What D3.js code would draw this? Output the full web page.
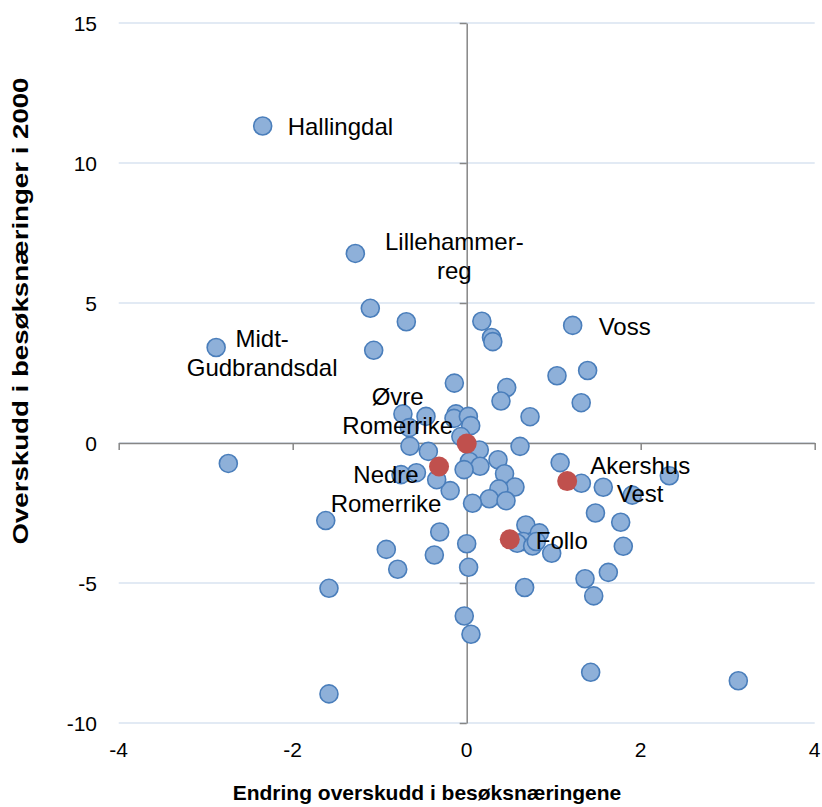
<!DOCTYPE html>
<html>
<head>
<meta charset="utf-8">
<script src="https://cdn.jsdelivr.net/npm/d3@7"></script>
<style>
  body { margin: 0; background: #fff; }
  text { font-family: "Liberation Sans", Arial, sans-serif; fill: #000; }
</style>
</head>
<body>
<div id="chart"></div>
<script>
// regions (blue series)
var regionX = [-2.345, -1.28, -2.88, 1.218, -1.108, -0.694, -1.069, 0.174, 0.285, 0.30,
  1.038, 1.39, -0.142, 0.46, 0.394, 1.316, 0.728, -0.733, -0.468, -0.123,
  -0.146, 0.019, 0.046, -0.66, -0.067, -0.652, -0.441, 0.145, 0.613, 0.36,
  0.03, 0.153, -0.03, 1.074, 1.318, 0.435, 0.555, 0.37, 0.26, 0.452,
  0.067, -0.19, -0.345, -0.578, -0.755, 1.57, 1.903, 2.329, 1.48, 1.77,
  1.80, 1.628, 1.36, 1.46, 0.666, 0.68, 0.835, 0.65, 0.58, 0.758,
  0.80, 0.977, 0.0, 0.022, -0.028, 0.049, 1.425, 3.122, -2.74, -1.62,
  -0.924, -0.793, -0.31, -0.372, -1.583, -1.583];
var regionY = [11.32, 6.77, 3.41, 4.20, 4.81, 4.33, 3.31, 4.35, 3.77, 3.62,
  2.40, 2.59, 2.14, 1.98, 1.50, 1.44, 0.94, 1.04, 0.95, 1.04,
  0.88, 0.95, 0.62, 0.55, 0.23, -0.11, -0.30, -0.25, -0.12, -0.60,
  -0.66, -0.83, -0.95, -0.70, -1.44, -1.10, -1.57, -1.64, -1.99, -2.06,
  -2.15, -1.70, -1.31, -1.06, -1.13, -1.58, -1.86, -1.17, -2.50, -2.83,
  -3.69, -4.62, -4.85, -5.46, -5.16, -2.93, -3.21, -3.52, -3.58, -3.68,
  -3.52, -3.94, -3.60, -4.44, -6.18, -6.83, -8.19, -8.49, -0.73, -2.77,
  -3.80, -4.51, -3.18, -4.00, -5.19, -8.96];
var regionName = ["Hallingdal", "Lillehammer-reg", "Midt-Gudbrandsdal", "Voss"];

// Akershus regions (red series)
var akershusX = [0.0, -0.318, 1.155, 0.495];
var akershusY = [-0.02, -0.84, -1.36, -3.44];
var akershusName = ["Øvre Romerrike", "Nedre Romerrike", "Akershus Vest", "Follo"];

var xTicks = [-4, -2, 0, 2, 4];
var yTicks = [-10, -5, 0, 5, 10, 15];
var xTitle = "Endring overskudd i besøksnæringene";
var yTitle = "Overskudd i besøksnæringer i 2000";

var width = 822, height = 807;

var svg = d3.select("#chart").append("svg")
    .attr("width", width)
    .attr("height", height);

var x = d3.scaleLinear().domain([-4, 4]).range([118.7, 814.7]);
var y = d3.scaleLinear().domain([-10, 15]).range([723, 23]);

// horizontal gridlines
svg.append("g").selectAll("line")
  .data(yTicks)
  .enter().append("line")
    .attr("x1", x(-4)).attr("x2", x(4))
    .attr("y1", function(d) { return y(d); })
    .attr("y2", function(d) { return y(d); })
    .attr("stroke", "#d9e3f0")
    .attr("stroke-width", 1.5);

// axes crossing at zero, ticks drawn by d3.axis without labels
var xAxis = svg.append("g")
    .attr("transform", "translate(0," + y(0) + ")")
    .call(d3.axisBottom(x).tickValues(xTicks).tickSize(7).tickSizeOuter(0).tickFormat(""));
var yAxis = svg.append("g")
    .attr("transform", "translate(" + x(0) + ",0)")
    .call(d3.axisLeft(y).tickValues(yTicks).tickSize(7).tickSizeOuter(0).tickFormat(""));
[xAxis, yAxis].forEach(function(a) {
  a.selectAll("path, line").attr("stroke", "#868686").attr("stroke-width", 1.5);
});

// tick labels at the low edge
svg.append("g").selectAll("text")
  .data(xTicks)
  .enter().append("text")
    .attr("x", function(d) { return x(d); })
    .attr("y", 757)
    .attr("text-anchor", "middle")
    .style("font-size", "21px")
    .text(function(d) { return d; });

svg.append("g").selectAll("text")
  .data(yTicks)
  .enter().append("text")
    .attr("x", 97)
    .attr("y", function(d) { return y(d); })
    .attr("dy", "0.36em")
    .attr("text-anchor", "end")
    .style("font-size", "21px")
    .text(function(d) { return d; });

// axis titles
svg.append("text")
    .attr("x", 427)
    .attr("y", 800)
    .attr("text-anchor", "middle")
    .style("font-size", "21px")
    .style("font-weight", "bold")
    .text(xTitle);

svg.append("text")
    .attr("transform", "translate(28,311) rotate(-90)")
    .attr("text-anchor", "middle")
    .attr("textLength", 467)
    .attr("lengthAdjust", "spacingAndGlyphs")
    .style("font-size", "22px")
    .style("font-weight", "bold")
    .text(yTitle);

// points
var blue = regionX.map(function(v, i) { return {x: v, y: regionY[i]}; });
var red = akershusX.map(function(v, i) { return {x: v, y: akershusY[i]}; });

svg.append("g").selectAll("circle")
  .data(blue)
  .enter().append("circle")
    .attr("cx", function(d) { return x(d.x); })
    .attr("cy", function(d) { return y(d.y); })
    .attr("r", 9)
    .attr("fill", "#8eb0d9")
    .attr("stroke", "#4a7ebb")
    .attr("stroke-width", 1.6);

svg.append("g").selectAll("circle")
  .data(red)
  .enter().append("circle")
    .attr("cx", function(d) { return x(d.x); })
    .attr("cy", function(d) { return y(d.y); })
    .attr("r", 10)
    .attr("fill", "#c0504d");

// data labels: [point, lines, dx, dy of first line, anchor]
var labels = [
  [blue[0], ["Hallingdal"], 25, 0, "start"],
  [blue[1], ["Lillehammer-", "reg"], 99, -12, "middle"],
  [blue[2], ["Midt-", "Gudbrandsdal"], 46, -9, "middle"],
  [blue[3], ["Voss"], 26, 1, "start"],
  [red[0], ["Øvre", "Romerrike"], -69, -47, "middle"],
  [red[1], ["Nedre", "Romerrike"], -53, 8, "middle"],
  [red[2], ["Akershus", "Vest"], 73, -16, "middle"],
  [red[3], ["Follo"], 26, 1, "start"]
];

labels.forEach(function(l) {
  var t = svg.append("text")
      .attr("text-anchor", l[4])
      .style("font-size", "24px");
  l[1].forEach(function(line, i) {
    t.append("tspan")
      .attr("x", x(l[0].x) + l[2])
      .attr("y", y(l[0].y) + l[3] + i * 28.5)
      .attr("dy", "0.36em")
      .text(line);
  });
});
</script>
</body>
</html>
